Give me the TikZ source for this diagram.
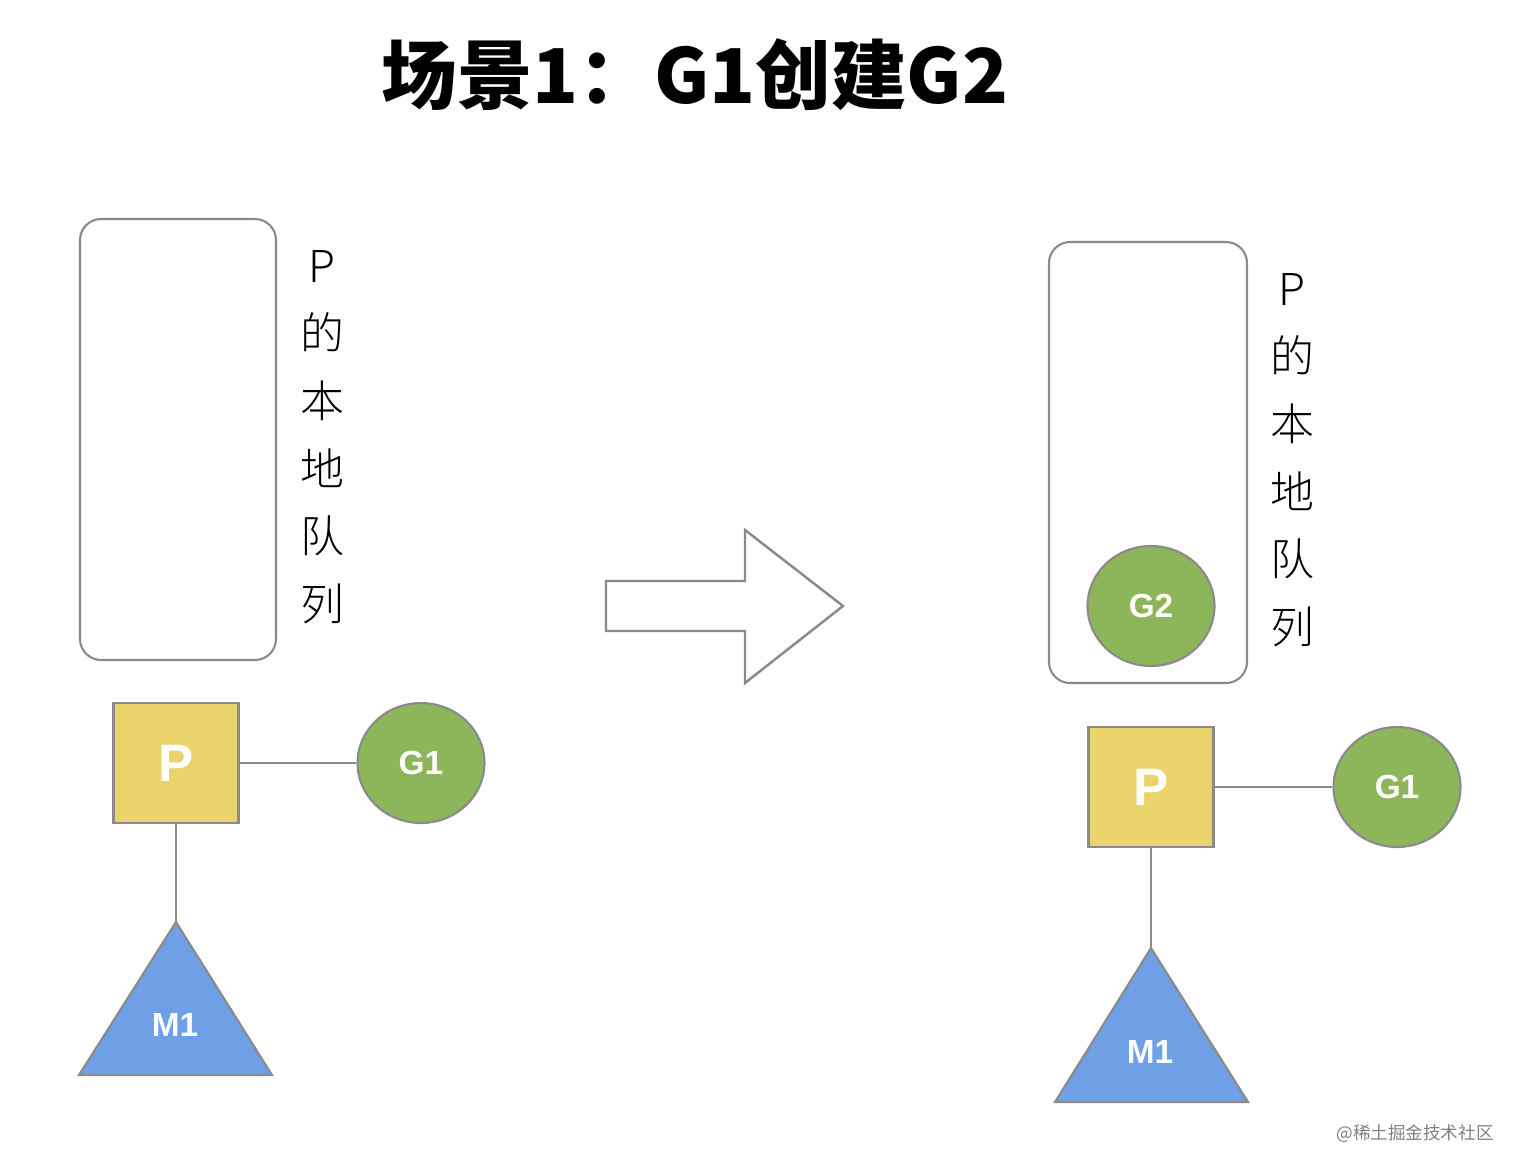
\documentclass[tikz,border=0pt]{standalone}
\usepackage{fontspec}
\setmainfont{Liberation Sans}
\newfontfamily\cjk{Noto Sans CJK SC}
\newfontfamily\cjklight{Noto Sans CJK SC Light}
\usetikzlibrary{positioning,shapes.geometric}
\definecolor{pyellow}{HTML}{E9D36A}
\definecolor{ggreen}{HTML}{8DB55A}
\definecolor{mblue}{HTML}{6FA0E6}
\definecolor{edgegray}{HTML}{8A8A8A}
\begin{document}
\begin{tikzpicture}[
        x = 0.02cm, y = -0.02cm,
        semithick
    ]

    \tikzset{
        queue/.style = {draw = edgegray, line width = 1.2pt, rounded corners = 12pt},
        pbox/.style = {draw = edgegray, line width = 1.2pt, fill = pyellow, minimum width = 2.5cm, minimum height = 2.4cm,
            text = white, font = \bfseries\fontsize{30}{30}\selectfont},
        gball/.style = {draw = edgegray, line width = 1.2pt, fill = ggreen, ellipse, minimum width = 2.54cm, minimum height = 2.4cm,
            text = white, font = \bfseries\fontsize{19}{19}\selectfont},
        mtri/.style = {draw = edgegray, line width = 1.2pt, fill = mblue},
        qlabel/.style = {align = center, font = \cjklight\fontsize{25}{38.5}\selectfont},
        link/.style = {draw = edgegray, line width = 1.2pt}
    }

    \useasboundingbox (0,0) rectangle (1524,1174);

    % title
    \node[font = \cjk\bfseries\fontsize{43}{43}\selectfont] (title) at (695,75) {场景1：G1创建G2};

    % left state
    \draw[queue] (80,219) rectangle (276,660);
    \node[qlabel] (lq) at (322,437) {P\\的\\本\\地\\队\\列};
    \node[pbox] (P1) at (176,763) {P};
    \node[gball] (G1a) at (421,763) {G1};
    \coordinate (M1top) at (176,922);
    \draw[mtri] (M1top) -- (272,1075) -- (79,1075) -- cycle;
    \node[text = white, font = \bfseries\fontsize{19}{19}\selectfont] (M1a) at (175,1025) {M1};
    \draw[link] (P1) -- (G1a);
    \draw[link] (P1) -- (M1top);

    % transition arrow
    \draw[edgegray, line width = 1.4pt] (606,581) -- (745,581) -- (745,530) -- (843,606)
        -- (745,683) -- (745,631) -- (606,631) -- cycle;

    % right state
    \draw[queue] (1049,242) rectangle (1247,683);
    \node[qlabel] (rq) at (1292,460) {P\\的\\本\\地\\队\\列};
    \node[gball] (G2) at (1151,606) {G2};
    \node[pbox] (P2) at (1151,787) {P};
    \node[gball] (G1b) at (1397,787) {G1};
    \coordinate (M2top) at (1151,948);
    \draw[mtri] (M2top) -- (1248,1102) -- (1055,1102) -- cycle;
    \node[text = white, font = \bfseries\fontsize{19}{19}\selectfont] (M1b) at (1150,1052) {M1};
    \draw[link] (P2) -- (G1b);
    \draw[link] (P2) -- (M2top);

    % watermark
    \node[text = gray, font = \cjk\fontsize{10}{10}\selectfont] (wm) at (1415,1134) {@稀土掘金技术社区};
\end{tikzpicture}
\end{document}
